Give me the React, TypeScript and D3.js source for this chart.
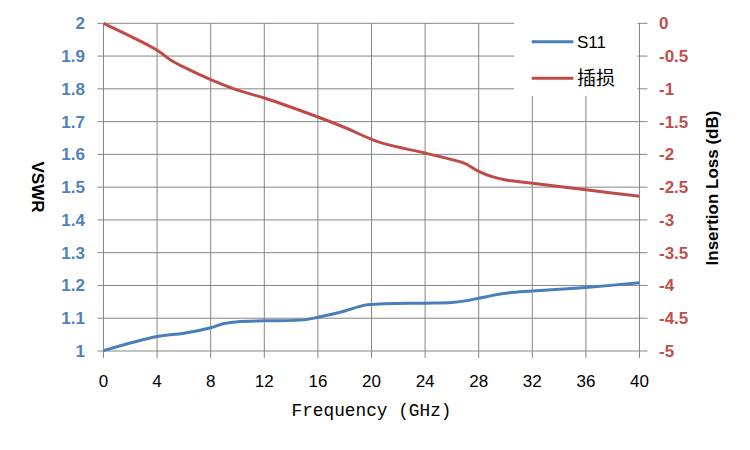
import React from "react";
import * as d3 from "d3";

// frequency points (GHz)
const s11Freq = [0, 4, 6, 8, 9, 10, 12, 15, 16, 18, 19.5, 21, 24, 26, 27, 28, 30, 32, 36, 40];
const s11Vswr = [1.001, 1.044, 1.054, 1.071, 1.084, 1.089, 1.092, 1.095, 1.103, 1.122, 1.14, 1.144, 1.146, 1.148, 1.153, 1.161, 1.176, 1.183, 1.194, 1.208];

const lossFreq = [0, 4, 5, 6, 8, 10, 12, 16, 18, 20, 21, 24, 26, 27, 28, 29, 30, 32, 36, 40];
const lossDb = [0, -0.41, -0.56, -0.67, -0.86, -1.02, -1.14, -1.43, -1.59, -1.77, -1.84, -1.98, -2.08, -2.14, -2.26, -2.34, -2.39, -2.44, -2.54, -2.64];

const xTicks = [0, 4, 8, 12, 16, 20, 24, 28, 32, 36, 40];
const leftTicks = [1, 1.1, 1.2, 1.3, 1.4, 1.5, 1.6, 1.7, 1.8, 1.9, 2];
const rightTicks = [0, -0.5, -1, -1.5, -2, -2.5, -3, -3.5, -4, -4.5, -5];

const legendNames = ["S11", "插损"];

const BLUE = "#4A7EBB";
const RED = "#BE4B48";
const BLUE_TXT = "#4F81BD";
const RED_TXT = "#C0504D";
const GRID = "#868686";

export default function App() {
  const left = 103.5, right = 639.5, top = 23.3, bottom = 351;

  const x = d3.scaleLinear().domain([0, 40]).range([left, right]);
  const yL = d3.scaleLinear().domain([1, 2]).range([bottom, top]);
  const yR = d3.scaleLinear().domain([-5, 0]).range([bottom, top]);

  // excel-style smoothed lines
  const s11Line = d3
    .line<number>()
    .x((_, i) => x(s11Freq[i]))
    .y((d) => yL(d))
    .curve(d3.curveCatmullRom.alpha(0.5));

  const lossLine = d3
    .line<number>()
    .x((_, i) => x(lossFreq[i]))
    .y((d) => yR(d))
    .curve(d3.curveCatmullRom.alpha(0.5));

  const tickFont = "'Liberation Sans', Arial, sans-serif";

  return (
    <svg
      width={750}
      height={450}
      style={{position: "absolute", left: 0, top: 0, background: "#fff"}}
    >
      {/* grid */}
      {xTicks.map((t) => (
        <line key={"gx" + t} x1={x(t)} x2={x(t)} y1={top} y2={bottom + 7} stroke={GRID} strokeWidth={1} />
      ))}
      {leftTicks.map((t) => (
        <line key={"gy" + t} x1={left - 6} x2={right + 8} y1={yL(t)} y2={yL(t)} stroke={GRID} strokeWidth={1} />
      ))}

      {/* legend box */}
      <rect x={514} y={top - 2} width={123.5} height={96 - top + 2} fill="#fff" />
      <line x1={right} x2={right} y1={top} y2={96} stroke={GRID} />
      {legendNames.map((n, i) => (
        <g key={n} transform={`translate(0,${41.7 + i * 36.6})`}>
          <line x1={531.7} x2={573.3} y1={0} y2={0} stroke={i === 0 ? BLUE : RED} strokeWidth={3} />
          <text
            x={577}
            y={i === 0 ? 6 : 7}
            fontSize={i === 0 ? 17 : 19}
            fill="#000"
            fontFamily={i === 0 ? tickFont : "'Noto Sans CJK SC', sans-serif"}
          >
            {n}
          </text>
        </g>
      ))}

      {/* series */}
      <path d={lossLine(lossDb) || ""} fill="none" stroke={RED} strokeWidth={3} strokeLinejoin="round" />
      <path d={s11Line(s11Vswr) || ""} fill="none" stroke={BLUE} strokeWidth={3} strokeLinejoin="round" />

      {/* tick labels */}
      {leftTicks.map((t) => (
        <text
          key={"lt" + t}
          x={85}
          y={yL(t) + 6}
          textAnchor="end"
          fontSize={17}
          fontWeight="bold"
          fill={BLUE_TXT}
          fontFamily={tickFont}
        >
          {t === 1 || t === 2 ? String(t) : t.toFixed(1)}
        </text>
      ))}
      {rightTicks.map((t) => (
        <text
          key={"rt" + t}
          x={659}
          y={yR(t) + 6}
          textAnchor="start"
          fontSize={17}
          fontWeight="bold"
          fill={RED_TXT}
          fontFamily={tickFont}
        >
          {String(t)}
        </text>
      ))}
      {xTicks.map((t) => (
        <text
          key={"xt" + t}
          x={x(t)}
          y={387}
          textAnchor="middle"
          fontSize={17}
          fill="#000"
          fontFamily={tickFont}
        >
          {t}
        </text>
      ))}

      {/* axis titles */}
      <text
        x={371.5}
        y={416}
        textAnchor="middle"
        fontSize={18}
        fill="#000"
        fontFamily="'Liberation Mono', monospace"
        textLength={160}
        lengthAdjust="spacingAndGlyphs"
      >
        Frequency (GHz)
      </text>
      <text
        transform={`translate(32,187) rotate(90)`}
        textAnchor="middle"
        fontSize={17}
        fontWeight="bold"
        fill="#000"
        fontFamily={tickFont}
      >
        VSWR
      </text>
      <text
        transform={`translate(718,188) rotate(-90)`}
        textAnchor="middle"
        fontSize={17}
        fontWeight="bold"
        fill="#000"
        fontFamily={tickFont}
      >
        Insertion Loss (dB)
      </text>
    </svg>
  );
}
